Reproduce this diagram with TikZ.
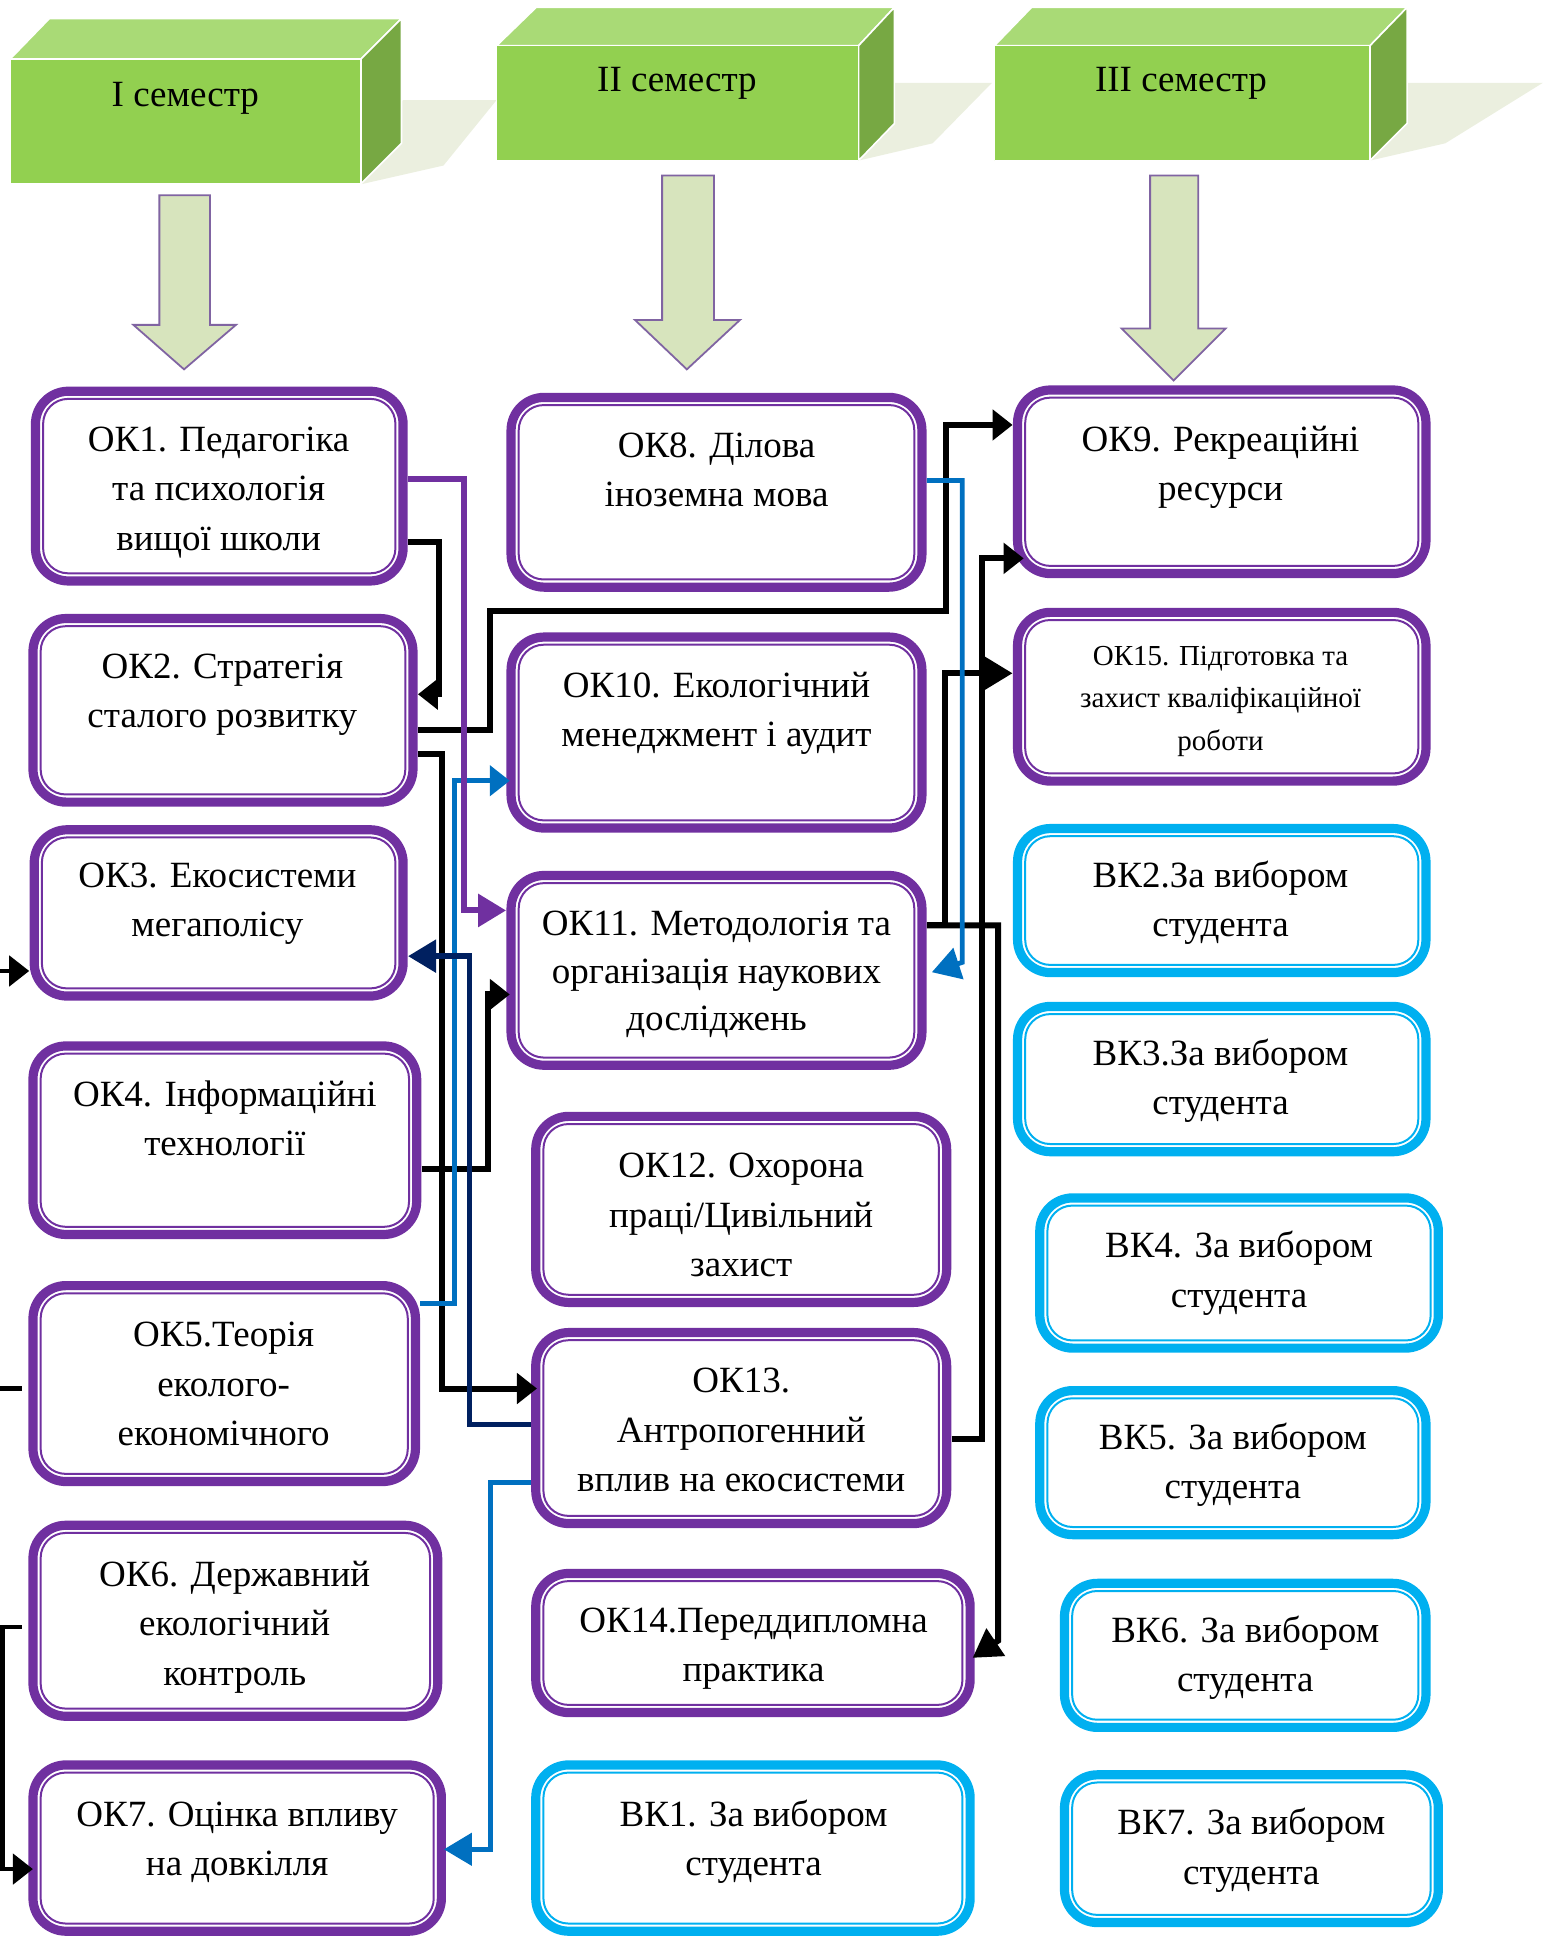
\documentclass[tikz,border=0pt]{standalone}
\usepackage{fontspec}
\setmainfont{Liberation Serif}
\usetikzlibrary{arrows.meta,fit,calc}
\definecolor{okc}{HTML}{7030A0}
\definecolor{vkc}{HTML}{00B0F0}
\definecolor{navyc}{HTML}{002060}
\definecolor{bluec}{HTML}{0070C0}
\definecolor{frontf}{HTML}{92D050}
\definecolor{topf}{HTML}{A9DA76}
\definecolor{sidef}{HTML}{77A843}
\definecolor{shad}{HTML}{EBEFDF}
\definecolor{arrfill}{HTML}{D7E4BD}
\definecolor{arrline}{HTML}{8064A2}
\newcommand\cbox[6]{%
  \draw[line width=4.6pt, draw=#6, rounded corners=16.5pt] ({#2+3.7},{#3+3.7}) rectangle ({#4-3.7},{#5-3.7});
  \draw[line width=1pt, draw=#6, rounded corners=12.5pt] ({#2+9.9},{#3+9.9}) rectangle ({#4-9.9},{#5-9.9});
  \coordinate (#1-a) at (#2,#3);
  \coordinate (#1-b) at (#4,#5);
  \node[fit=(#1-a)(#1-b), inner sep=0pt, draw=none] (#1) {};
}
\tikzset{
  lbl/.style={anchor=north, align=center, inner sep=0pt, font=\fontsize{18.5}{24.7}\selectfont},
  hdr/.style={anchor=base, inner sep=0pt, font=\fontsize{18.5}{24.7}\selectfont},
  face/.style={draw=white, line width=0.8pt, line join=round},
  blockarrow/.style={fill=arrfill, draw=arrline, line width=0.9pt, line join=miter},
  blk/.style={draw=black, line width=3pt},
  thinblk/.style={draw=black, line width=2.3pt},
  purp/.style={draw=okc, line width=3pt},
  blu/.style={draw=bluec, line width=2.4pt},
  nav/.style={draw=navyc, line width=2.8pt},
  tip/.style={-{Triangle[length=10pt,width=15pt]}},
  bigtip/.style={-{Triangle[length=14pt,width=16pt]}},
}
\begin{document}
\begin{tikzpicture}[x=0.6177pt,y=-0.6177pt]
\useasboundingbox (0,0) rectangle (1249,1568);
% ---- header shadows
\fill[shad] (326,81) -- (402,81) -- (359,134) -- (293,149) -- cycle;
\fill[shad] (724,67) -- (803,67) -- (755,116) -- (695,130) -- cycle;
\fill[shad] (1139,67) -- (1249,67) -- (1170,116) -- (1109,130) -- cycle;
% ---- header boxes
\filldraw[face, fill=topf] (8,48) -- (40,15) -- (325,15) -- (292,48) -- cycle;
\filldraw[face, fill=sidef] (292,48) -- (325,15) -- (325,116) -- (292,149) -- cycle;
\filldraw[face, fill=frontf] (8,48) rectangle (292,149);
\filldraw[face, fill=topf] (402,37) -- (434,6) -- (724,6) -- (695,37) -- cycle;
\filldraw[face, fill=sidef] (695,37) -- (724,6) -- (724,100) -- (695,130) -- cycle;
\filldraw[face, fill=frontf] (402,37) rectangle (695,130);
\filldraw[face, fill=topf] (805,37) -- (835,6) -- (1139,6) -- (1109,37) -- cycle;
\filldraw[face, fill=sidef] (1109,37) -- (1139,6) -- (1139,100) -- (1109,130) -- cycle;
\filldraw[face, fill=frontf] (805,37) rectangle (1109,130);
\node[hdr] (h1) at (150,86) {I семестр};
\node[hdr] (h2) at (548,74) {II семестр};
\node[hdr] (h3) at (956,74) {III семестр};
% ---- block arrows
\draw[blockarrow] (129,158) -- (170,158) -- (170,263) -- (191,263) -- (149,299) -- (108,263) -- (129,263) -- cycle;
\draw[blockarrow] (536,142) -- (578,142) -- (578,259) -- (599,259) -- (556,299) -- (514,259) -- (536,259) -- cycle;
\draw[blockarrow] (931,142) -- (970,142) -- (970,266) -- (992,266) -- (950,308) -- (908,266) -- (931,266) -- cycle;
% ---- column 1
\cbox{OK1}{25}{313}{330}{474}{okc}
\cbox{OK2}{23}{497}{338}{653}{okc}
\cbox{OK3}{24}{668}{330}{810}{okc}
\cbox{OK4}{23}{843}{341}{1003}{okc}
\cbox{OK5}{23}{1037}{340}{1203}{okc}
\cbox{OK6}{23}{1231}{358}{1393}{okc}
\cbox{OK7}{23}{1425}{361}{1567}{okc}
% ---- column 2
\cbox{OK8}{410}{318}{750}{479}{okc}
\cbox{OK10}{410}{512}{750}{674}{okc}
\cbox{OK11}{410}{705}{750}{866}{okc}
\cbox{OK12}{430}{900}{770}{1058}{okc}
\cbox{OK13}{430}{1075}{770}{1237}{okc}
\cbox{OK14}{430}{1270}{789}{1390}{okc}
\cbox{VK1}{430}{1425}{789}{1567}{vkc}
% ---- column 3
\cbox{OK9}{820}{312}{1158}{468}{okc}
\cbox{OK15}{820}{492}{1158}{636}{okc}
\cbox{VK2}{820}{667}{1158}{791}{vkc}
\cbox{VK3}{820}{811}{1158}{936}{vkc}
\cbox{VK4}{838}{966}{1168}{1095}{vkc}
\cbox{VK5}{838}{1122}{1158}{1246}{vkc}
\cbox{VK6}{858}{1278}{1158}{1402}{vkc}
\cbox{VK7}{858}{1433}{1168}{1560}{vkc}
% ---- labels
\node[lbl] (t1) at (177,337) {\strut ОК1. Педагогіка\\та психологія\\вищої школи};
\node[lbl] (t2) at (180,521) {\strut ОК2. Стратегія\\сталого розвитку};
\node[lbl] (t3) at (176,690) {\strut ОК3. Екосистеми\\мегаполісу};
\node[lbl] (t4) at (182,867) {\strut ОК4. Інформаційні\\технології};
\node[lbl] (t5) at (181,1062) {\strut ОК5.Теорія\\еколого-\\економічного};
\node[lbl] (t6) at (190,1256) {\strut ОК6. Державний\\екологічний\\контроль};
\node[lbl] (t7) at (192,1450) {\strut ОК7. Оцінка впливу\\на довкілля};
\node[lbl] (t8) at (580,342) {\strut ОК8. Ділова\\іноземна мова};
\node[lbl] (t10) at (580,536) {\strut ОК10. Екологічний\\менеджмент і аудит};
\node[lbl, font=\fontsize{18.5}{23.8}\selectfont] (t11) at (580,730) {\strut ОК11. Методологія та\\організація наукових\\досліджень};
\node[lbl] (t12) at (600,925) {\strut ОК12. Охорона\\праці/Цивільний\\захист};
\node[lbl] (t13) at (600,1099) {\strut ОК13.\\Антропогенний\\вплив на екосистеми};
\node[lbl] (t14) at (610,1293) {\strut ОК14.Переддипломна\\практика};
\node[lbl] (tv1) at (610,1450) {\strut ВК1. За вибором\\студента};
\node[lbl] (t9) at (988,337) {\strut ОК9. Рекреаційні\\ресурси};
\node[lbl, font=\fontsize{14.5}{21.3}\selectfont] (t15) at (988,514) {\strut ОК15. Підготовка та\\захист кваліфікаційної\\роботи};
\node[lbl] (tv2) at (988,690) {\strut ВК2.За вибором\\студента};
\node[lbl] (tv3) at (988,834) {\strut ВК3.За вибором\\студента};
\node[lbl] (tv4) at (1003,990) {\strut ВК4. За вибором\\студента};
\node[lbl] (tv5) at (998,1145) {\strut ВК5. За вибором\\студента};
\node[lbl] (tv6) at (1008,1301) {\strut ВК6. За вибором\\студента};
\node[lbl] (tv7) at (1013,1457) {\strut ВК7. За вибором\\студента};
% ---- connectors
\coordinate (L1) at (0,786);
\coordinate (L2) at (0,1124);
\draw[thinblk, tip] (L1) -- (OK3.west |- 0,786);
\draw[thinblk] (L2) -- ($(OK5.west |- 0,1124)+(-5,0)$);
\draw[thinblk, tip] ($(OK6.west |- 0,1317)+(-5,0)$) -- (2,1317) -- (2,1513) -- ($(OK7.west |- 0,1513)+(4,0)$);
\draw[blk, tip] (OK1.east |- 0,439) -- (355,439) -- (355,562) -- ($(OK2.east |- 0,562)$);
\draw[blk, tip] (OK2.east |- 0,591) -- (397,591) -- (397,495) -- (766,495) -- (766,344) -- (OK9.west |- 0,344);
\draw[blk, tip] (OK2.east |- 0,610) -- (358,610) -- (358,1124) -- ($(OK13.west |- 0,1124)+(5,0)$);
\draw[blk, tip] (OK4.east |- 0,946) -- (395,946) -- (395,805) -- ($(OK11.west |- 0,805)+(3,0)$);
\draw[blu, tip] (OK5.east |- 0,1055) -- (368,1055) -- (368,632) -- ($(OK10.west |- 0,632)+(3,0)$);
\draw[nav, bigtip] (OK13.west |- 0,1153) -- (380,1153) -- (380,774) -- (OK3.east |- 0,774);
\draw[blk, tip] (OK13.east |- 0,1165) -- (795,1165) -- (795,452) -- ($(OK9.west |- 0,452)+(9,0)$);
\draw[blk, bigtip] (OK11.east |- 0,749) -- (808,749) -- (808,1328) -- ($(OK14.east |- 0,1342)+(-2,0)$);
\draw[blk, bigtip] (OK11.east |- 0,749) -- (765,749) -- (765,545) -- (OK15.west |- 0,545);
\draw[blu, bigtip] (OK8.east |- 0,389) -- (779,389) -- (779,779) -- ($(OK11.east |- 0,787)+(4,0)$);
\draw[blu, bigtip] (OK13.west |- 0,1200) -- (397,1200) -- (397,1497) -- ($(OK7.east |- 0,1497)+(-2,0)$);
\draw[purp, bigtip] (OK1.east |- 0,388) -- (376,388) -- (376,737) -- (OK11.west |- 0,737);
\end{tikzpicture}
\end{document}
